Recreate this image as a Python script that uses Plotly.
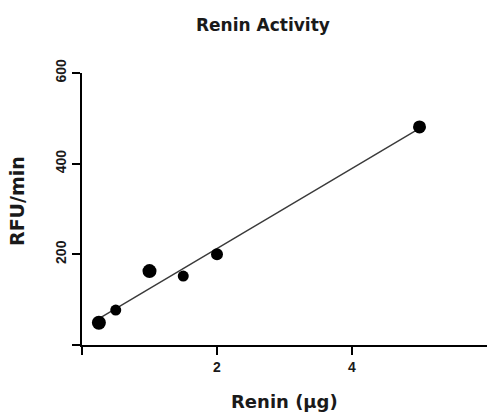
import numpy as np
import plotly.graph_objects as go

renin_ug = [0.25, 0.5, 1.0, 1.5, 2.0, 5.0]
rfu_per_min = [49, 77, 163, 152, 200, 481]
marker_sizes = [14, 11, 14, 11, 12, 13]

x_ticks = [0, 2, 4]
x_tick_labels = ["", "2", "4"]
y_ticks = [0, 200, 400, 600]
y_tick_labels = ["", "200", "400", "600"]

slope, intercept = np.polyfit(renin_ug, rfu_per_min, 1)
fit_x = [min(renin_ug), max(renin_ug)]
fit_y = [slope * v + intercept for v in fit_x]

tick_font = "Liberation Sans, Arial, sans-serif"
title_font = "DejaVu Sans, sans-serif"
ink = "#1a1a1a"

W, H = 487, 413
L, R, T, B = 82, 0, 73, 68
pw, ph = W - L - R, H - T - B

fig = go.Figure()
fig.add_trace(go.Scatter(x=fit_x, y=fit_y, mode="lines",
                         line=dict(color="#3a3a3a", width=1.4),
                         hoverinfo="skip", showlegend=False))
fig.add_trace(go.Scatter(x=renin_ug, y=rfu_per_min, mode="markers",
                         marker=dict(color="#000000", size=marker_sizes,
                                     opacity=1, line=dict(width=0)),
                         cliponaxis=False, showlegend=False))

fig.update_layout(
    width=W, height=H,
    margin=dict(l=L, r=R, t=T, b=B, autoexpand=False),
    paper_bgcolor="white", plot_bgcolor="white",
    font=dict(family=tick_font, color=ink),
    xaxis=dict(range=[0, 6], tickvals=x_ticks, ticktext=x_tick_labels,
               showgrid=False, zeroline=False, showline=True, linecolor="#000",
               linewidth=2, ticks="outside", ticklen=8, tickwidth=1.5,
               tickcolor="#000", automargin=False,
               tickfont=dict(size=14, family=tick_font, color=ink, weight="bold")),
    yaxis=dict(range=[0, 600], tickvals=y_ticks, ticktext=y_tick_labels,
               showgrid=False, zeroline=False, showline=True, linecolor="#000",
               linewidth=2, ticks="outside", ticklen=8, tickwidth=1.5,
               tickcolor="#000", tickangle=-90, automargin=False,
               tickfont=dict(size=14, family=tick_font, color=ink, weight="bold")),
    annotations=[
        dict(text="<b>Renin Activity</b>", xref="paper", yref="paper",
             x=(263 - L) / pw, y=(H - B - 25) / ph, xanchor="center",
             yanchor="middle", showarrow=False,
             font=dict(size=17, family=title_font, color=ink)),
        dict(text="<b>Renin (µg)</b>", xref="paper", yref="paper",
             x=(284 - L) / pw, y=(H - B - 401) / ph, xanchor="center",
             yanchor="middle", showarrow=False,
             font=dict(size=18, family=title_font, color=ink)),
        dict(text="<b>RFU/min</b>", xref="paper", yref="paper",
             x=(17 - L) / pw, y=(H - B - 201) / ph, xanchor="center",
             yanchor="middle", showarrow=False, textangle=-90,
             font=dict(size=19, family=title_font, color=ink)),
    ],
)

fig.write_html("out.html",
               config={"displayModeBar": False},
               post_script="document.body.style.margin='0';"
                           "document.body.style.overflow='hidden';")
